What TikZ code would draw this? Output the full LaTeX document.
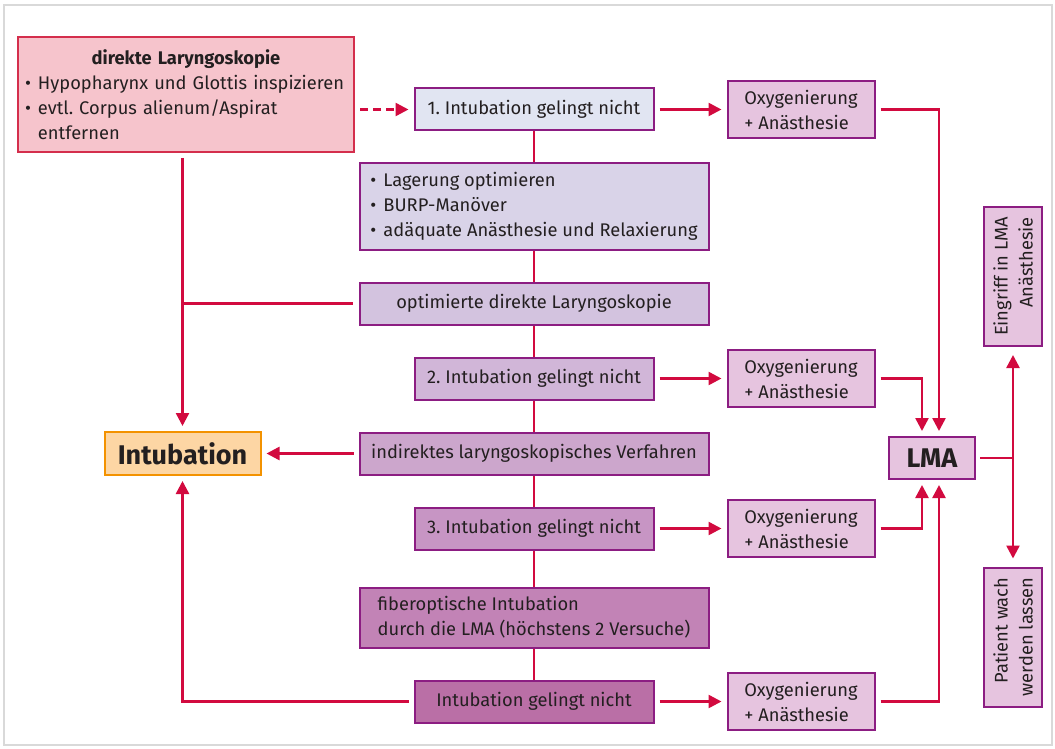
\documentclass[tikz,border=0pt]{standalone}
\usepackage{fontspec}
\setmainfont{Fira Sans}
\usepackage{tikz}
\usetikzlibrary{arrows.meta,positioning}
\setlength{\parindent}{0pt}
\frenchspacing
\definecolor{Crimson}{HTML}{D20A3F}
\definecolor{Plum}{HTML}{8C1D82}
\definecolor{Ink}{HTML}{231F20}
\definecolor{FrameGray}{HTML}{D9D9D9}
\definecolor{Rose}{HTML}{F6C4CC}
\definecolor{RoseLine}{HTML}{D42E4C}
\definecolor{Peach}{HTML}{FDD6A4}
\definecolor{Amber}{HTML}{F39200}
\definecolor{Lilac}{HTML}{E6C4DF}
\definecolor{StepA}{HTML}{E1E5F2}
\definecolor{StepB}{HTML}{D9D3E8}
\definecolor{StepC}{HTML}{D3C3DF}
\definecolor{StepD}{HTML}{D1B6D8}
\definecolor{StepE}{HTML}{CCA6CC}
\definecolor{StepF}{HTML}{C795C4}
\definecolor{StepG}{HTML}{C283B6}
\definecolor{StepH}{HTML}{BA6FA6}
\newcommand{\itemdot}{\makebox[13pt][l]{•}}

\begin{document}
\begin{tikzpicture}[
  x=1pt,y=-1pt,
  node distance=31pt and 72pt,
  font=\fontsize{18.3}{25}\selectfont,
  text=Ink,
  box/.style={draw=Plum,line width=2pt,minimum height=42pt,inner sep=3pt},
  failbox/.style={box,minimum width=239pt},
  widebox/.style={box,minimum width=349pt},
  oxybox/.style={box,fill=Lilac,minimum width=147pt,minimum height=57pt,align=left},
  sidebox/.style={box,fill=Lilac,rotate=90,minimum width=139pt,minimum height=58pt,align=right},
  bigword/.style={font=\fontsize{27}{30}\selectfont\bfseries},
  link/.style={line width=2.5pt,draw=Crimson},
  arrow/.style={link,-{Triangle[length=13pt,width=13pt]},shorten >=5pt,shorten <=5pt}
]
  \useasboundingbox (0,0) rectangle (1055,749);
  \draw[FrameGray,line width=2pt] (4,5) rectangle (1052,745);

  % left: first attempt and goal
  \node[box,draw=RoseLine,fill=Rose,minimum width=336pt,minimum height=115pt,text width=322pt] (direct) at (186,94.5) {%
    \hyphenpenalty=10000\exhyphenpenalty=10000
    {\centering\bfseries direkte Laryngoskopie\par}
    \raggedright
    \itemdot Hypopharynx und Glottis inspizieren\par
    \hangindent=13pt\hangafter=1\itemdot evtl. Corpus alienum/Aspirat\newline entfernen\par};

  % middle column
  \node[failbox,fill=StepA] (fail1) at (534,109.5) {1. Intubation gelingt nicht};
  \node[widebox,fill=StepB,minimum height=86pt,align=left,below=of fail1] (measures) {\itemdot Lagerung optimieren\\\itemdot BURP-Manöver\\\itemdot adäquate Anästhesie und Relaxierung};
  \node[widebox,fill=StepC,below=of measures] (optlar) {optimierte direkte Laryngoskopie};
  \node[failbox,fill=StepD,below=of optlar] (fail2) {2. Intubation gelingt nicht};
  \node[widebox,fill=StepE,below=of fail2] (indirect) {indirektes laryngoskopisches Verfahren};
  \node[failbox,fill=StepF,below=of indirect] (fail3) {3. Intubation gelingt nicht};
  \node[widebox,fill=StepG,minimum height=60pt,align=left,below=36pt of fail3] (fiber) {fiberoptische Intubation\\durch die LMA (höchstens 2 Versuche)};
  \node[failbox,fill=StepH,below=of fiber] (fail4) {Intubation gelingt nicht};

  \node[box,draw=Amber,fill=Peach,minimum width=156pt,minimum height=43pt,bigword,left=97pt of indirect] (intub) {Intubation};

  % oxygenation column
  \node[oxybox,right=of fail1] (oxy1) {Oxygenierung\\+ Anästhesie};
  \node[oxybox,right=of fail2] (oxy2) {Oxygenierung\\+ Anästhesie};
  \node[oxybox,right=of fail3] (oxy3) {Oxygenierung\\+ Anästhesie};
  \node[oxybox,right=of fail4] (oxy4) {Oxygenierung\\+ Anästhesie};

  % right: LMA and outcomes
  \node[box,fill=Lilac,minimum width=86pt,minimum height=42pt,bigword] (lma) at (932,458) {LMA};
  \node[sidebox] (surgery) at (1013,276.5) {Eingriff in LMA\\Anästhesie};
  \node[sidebox] (wake) at (1013,637) {Patient wach\\werden lassen};
  \coordinate (split) at (lma.east -| surgery);

  \draw[link] (fail1) -- (measures);
  \draw[link] (measures) -- (optlar);
  \draw[link] (optlar) -- (fail2);
  \draw[link] (fail2) -- (indirect);
  \draw[link] (indirect) -- (fail3);
  \draw[link] (fail3) -- (fiber);
  \draw[link] (fiber) -- (fail4);

  \draw[arrow,dash pattern=on 8pt off 5pt] (direct.east |- fail1) -- (fail1);
  \draw[arrow] (direct.south -| intub) -- (intub);
  \draw[link,shorten <=6pt] (optlar.west) -- (optlar.west -| intub);
  \draw[arrow] (indirect) -- (intub);
  \draw[arrow] (fail4) -| (intub);

  \draw[arrow] (fail1) -- (oxy1);
  \draw[arrow] (fail2) -- (oxy2);
  \draw[arrow] (fail3) -- (oxy3);
  \draw[arrow] (fail4) -- (oxy4);

  \draw[arrow] (oxy1) -| ([xshift=7pt]lma.north);
  \draw[arrow] (oxy2) -| ([xshift=-10pt]lma.north);
  \draw[arrow] (oxy3) -| ([xshift=-10pt]lma.south);
  \draw[arrow] (oxy4) -| ([xshift=7pt]lma.south);

  \draw[link,shorten <=4pt] (lma) -- (split);
  \draw[arrow,shorten <=0pt,shorten >=8pt] (split) -- (surgery.west);
  \draw[arrow,shorten <=0pt,shorten >=8pt] (split) -- (wake.east);
\end{tikzpicture}
\end{document}
